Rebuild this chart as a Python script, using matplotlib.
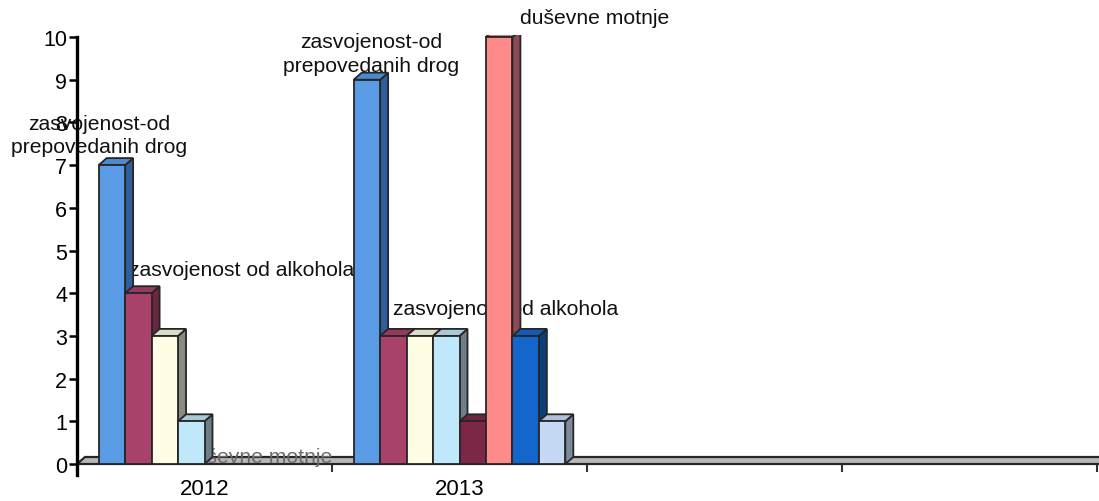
import matplotlib
matplotlib.use("Agg")
import matplotlib.pyplot as plt
import numpy as np
from matplotlib.patches import Polygon
from matplotlib.colors import to_rgb

# ---- data ----
categories = ["2012", "2013", "", ""]
series_values = [
    [7, 9, 0, 0],   # zasvojenost-od prepovedanih drog
    [4, 3, 0, 0],   # zasvojenost od alkohola
    [3, 3, 0, 0],
    [1, 3, 0, 0],
    [0, 1, 0, 0],
    [0, 10, 0, 0],  # duševne motnje
    [0, 3, 0, 0],
    [0, 1, 0, 0],
]
y_ticks = [0, 1, 2, 3, 4, 5, 6, 7, 8, 9, 10]
# data labels: (category index, series index, text)
data_labels = [
    (0, 0, "zasvojenost-od\nprepovedanih drog"),
    (1, 0, "zasvojenost-od\nprepovedanih drog"),
    (0, 1, "zasvojenost od alkohola"),
    (1, 1, "zasvojenost od alkohola"),
    (0, 5, "duševne motnje"),
    (1, 5, "duševne motnje"),
]

# ---- style ----
colors = ["#5A9BE6", "#A8426A", "#FFFDE3", "#BFE9FB",
          "#7D2748", "#FF8A8A", "#1466CC", "#C5D9F5"]
side_colors = ["#2F5E9A", "#6A2841", "#8A8A82", "#6E7E86",
               "#4E1A2E", "#8B4A55", "#0D3F78", "#7C8A9C"]
# label placement (offset pixels from bar top centre, ha, va)
label_style = {
    (0, 0): (-13, 9, "center", "bottom"),
    (1, 0): (4, 5, "center", "bottom"),
    (0, 1): (-9, 24, "left", "center"),
    (1, 1): (0, 27, "left", "center"),
    (0, 5): (-61, 7, "left", "center"),
    (1, 5): (21, 19, "left", "center"),
}
W, H, DPI = 1099, 502, 100
plt.rcParams["font.family"] = ["Liberation Sans", "DejaVu Sans"]

fig = plt.figure(figsize=(W / DPI, H / DPI), dpi=DPI)
ax_left, ax_w = 77 / W, 1020 / W
ymin, ymax = -0.25, 10.05
px_per_unit = 42.7
ax_h_px = (ymax - ymin) * px_per_unit
ax_bottom_px = 465 + (-ymin) * px_per_unit
ax = fig.add_axes([ax_left, 1 - ax_bottom_px / H, ax_w, ax_h_px / H])

ncat = len(categories)
nser = len(series_values)
xlo, xhi = -0.5, ncat - 0.5
ax.set_xlim(xlo, xhi)
ax.set_ylim(ymin, ymax)

# depth in data units from pixel sizes
dx_px, dy_px = 8, 7
xu = (xhi - xlo) / 1020
dxd = dx_px * xu
dyd = dy_px / px_per_unit

group_w = 0.83
bw = group_w / nser
edge = "#262626"

# floor
floor = Polygon([(xlo, 0), (xhi + 2 * dxd, 0), (xhi + 3 * dxd, dyd), (xlo + dxd, dyd)],
                closed=True, facecolor="#B8B8B8", edgecolor=edge, lw=1.6,
                zorder=3, clip_on=False)
ax.add_patch(floor)

bar_tops = {}
for s in range(nser):
    vals = series_values[s]
    xs = np.arange(ncat) - group_w / 2 + s * bw
    for c in range(ncat):
        v = vals[c]
        x0 = xs[c]
        z = 4 + s * 0.1
        if c >= 2:
            continue
        bar_tops[(c, s)] = (x0 + bw / 2, v)
        if v <= 0:
            continue
        side = Polygon([(x0 + bw, 0), (x0 + bw + dxd, dyd),
                        (x0 + bw + dxd, v + dyd), (x0 + bw, v)],
                       closed=True, facecolor=side_colors[s], edgecolor=edge,
                       lw=1.3, zorder=z)
        ax.add_patch(side)
        top_c = tuple(0.7 * np.array(to_rgb(colors[s])) + 0.3 * np.array(to_rgb(side_colors[s])))
        top = Polygon([(x0, v), (x0 + dxd, v + dyd), (x0 + bw + dxd, v + dyd),
                       (x0 + bw, v)], closed=True, facecolor=top_c,
                      edgecolor=edge, lw=1.3, zorder=z)
        ax.add_patch(top)
        ax.bar(x0, v, width=bw, align="edge", color=colors[s],
               edgecolor=edge, linewidth=1.3, zorder=z)

for (c, s, txt) in data_labels:
    xc, v = bar_tops[(c, s)]
    ox, oy, ha, va = label_style[(c, s)]
    faint = (series_values[s][c] == 0)
    ax.annotate(txt, xy=(xc, v), xytext=(ox, oy), textcoords="offset pixels",
                ha=ha, va=va, fontsize=15.2,
                color="#6A6A6A" if faint else "#111111",
                linespacing=1.3, multialignment="center",
                zorder=3.5 if faint else 2)

# axes styling
for sp in ["top", "right"]:
    ax.spines[sp].set_visible(False)
ax.spines["bottom"].set_position(("data", 0))
ax.spines["bottom"].set_color("none")
ax.spines["left"].set_linewidth(2.4)
ax.spines["left"].set_color("black")
ax.spines["left"].set_bounds(ymin, 10)
ax.spines["left"].set_zorder(6)

ax.set_yticks(y_ticks)
ax.set_yticklabels([str(t) for t in y_ticks])
ax.tick_params(axis="y", direction="out", length=6, width=1.8, pad=1,
               labelsize=15.5, colors="black")

ax.set_xticks(np.arange(ncat + 1) - 0.5)
ax.set_xticklabels([])
ax.set_xticks(np.arange(ncat), minor=True)
ax.set_xticklabels(categories, minor=True)
ax.tick_params(axis="x", which="major", direction="out", length=6, width=1.5,
               color="#333333")
ax.tick_params(axis="x", which="minor", length=0, pad=10, labelsize=16)

ax.patch.set_alpha(0)
fig.savefig("out.png", dpi=DPI)
